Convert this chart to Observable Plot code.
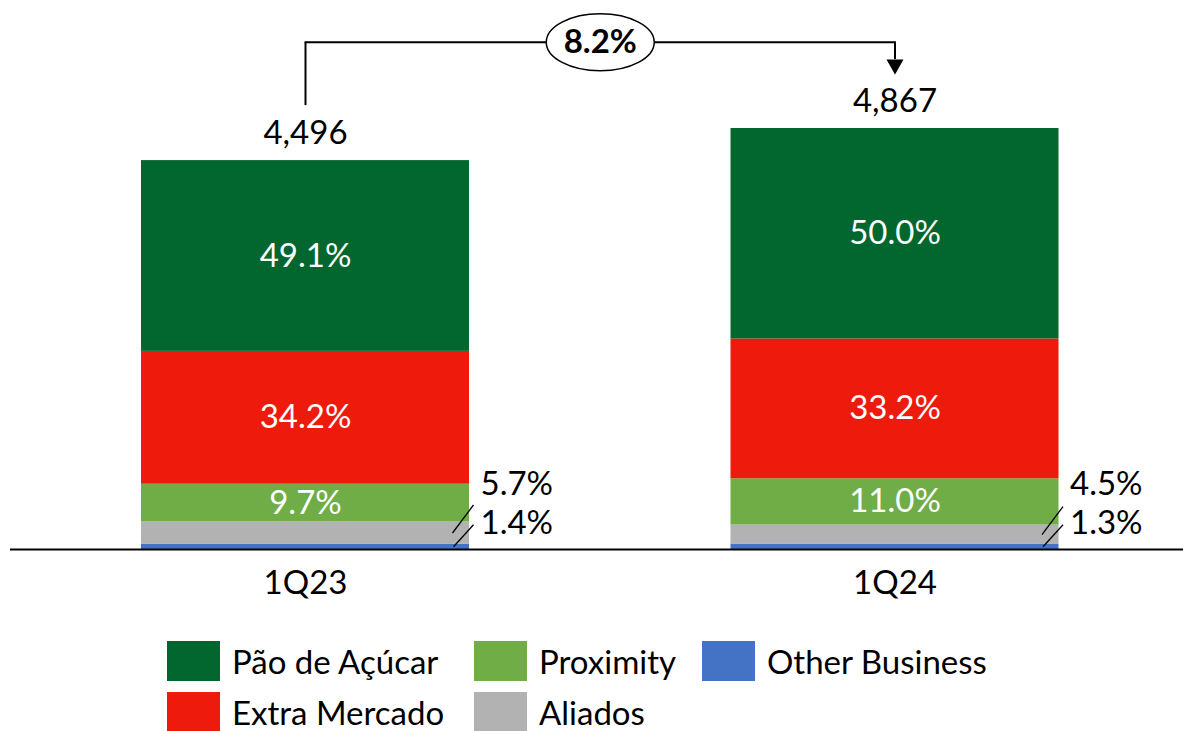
<!DOCTYPE html>
<html><head><meta charset="utf-8">
<script src="https://cdn.jsdelivr.net/npm/d3@7"></script>
<script src="https://cdn.jsdelivr.net/npm/@observablehq/plot@0.6"></script>
<style>
body{margin:0;background:#fff;font-family:Lato,sans-serif;}
#chart{position:relative;width:1183px;height:731px;overflow:hidden;background:#fff}
#chart svg{display:block}
.legend{position:absolute;left:167px;top:641px;display:grid;grid-template-rows:40px 38px;grid-auto-flow:column;grid-template-columns:307px 228px auto;row-gap:12px}
.item{display:flex;align-items:center;height:38px;font-size:33px;line-height:1;color:#000;white-space:nowrap}
.item:nth-child(odd){height:40px}
.sw{width:53px;height:40px;margin-right:12px;flex:none}
.item span:last-child{line-height:1;display:inline-block;height:33px}
</style></head><body><div id="chart"></div>
<script>
// ---- data ----
const quarters = ["1Q23", "1Q24"];
const totals = [4496, 4867];
const segments = ["Other Business", "Aliados", "Proximity", "Extra Mercado", "Pão de Açúcar"]; // bottom -> top
const colors = ["#4472C4", "#B2B2B2", "#70AD47", "#EE1A0B", "#02662F"];
const shareOther = [1.4, 1.3];
const shareAliados = [5.7, 4.5];
const shareProximity = [9.7, 11.0];
const shareExtra = [34.2, 33.2];
const sharePao = [49.1, 50.0];
const growthLabel = "8.2%";
const legendOrder = ["Pão de Açúcar", "Extra Mercado", "Proximity", "Aliados", "Other Business"];
const insideSegments = ["Pão de Açúcar", "Extra Mercado", "Proximity"];

// ---- derived table ----
const shareTable = [shareOther, shareAliados, shareProximity, shareExtra, sharePao];
const rows = [];
quarters.forEach((q, qi) => {
  const sum = d3.sum(shareTable, s => s[qi]);
  let acc = 0;
  segments.forEach((seg, si) => {
    const share = shareTable[si][qi];
    const value = share / sum * totals[qi];
    rows.push({quarter: q, segment: seg, share, value, mid: acc + value / 2});
    acc += value;
  });
});
const fmtPct = v => v.toFixed(1) + "%";
const totalRows = quarters.map((q, i) => ({quarter: q, total: totals[i]}));

// ---- layout ----
const W = 1183, H = 625, fs = 33;
const pInner = 0.4436, pOuter = 0.2, xr = [23.1, 1176.4];
const step = (xr[1] - xr[0]) / (quarters.length - pInner + 2 * pOuter);
const halfStep = step / 2;
const topY = d3.max(totals) * 1.205;

const slashLong = {draw(ctx) { ctx.moveTo(0, 0); ctx.lineTo(21, -28); }};
const slashShort = {draw(ctx) { ctx.moveTo(0, 0); ctx.lineTo(20, -22); }};
const downTriangle = {draw(ctx) { ctx.moveTo(-8.5, -7.5); ctx.lineTo(8.5, -7.5); ctx.lineTo(0, 7.5); ctx.closePath(); }};
const ellipse = {draw(ctx) {
  const rx = 54, ry = 28.5, k = 0.5523;
  ctx.moveTo(-rx, 0);
  ctx.bezierCurveTo(-rx, -ry * k, -rx * k, -ry, 0, -ry);
  ctx.bezierCurveTo(rx * k, -ry, rx, -ry * k, rx, 0);
  ctx.bezierCurveTo(rx, ry * k, rx * k, ry, 0, ry);
  ctx.bezierCurveTo(-rx * k, ry, -rx, ry * k, -rx, 0);
  ctx.closePath();
}};

const first = totalRows.slice(0, 1), last = totalRows.slice(1, 2);

const chart = Plot.plot({
  width: W, height: H,
  marginLeft: 10, marginRight: 0, marginTop: 30, marginBottom: 76,
  style: {fontFamily: "Lato, sans-serif", background: "#fff", overflow: "visible"},
  x: {domain: quarters, range: xr, paddingInner: pInner, paddingOuter: pOuter, round: false, label: null},
  y: {domain: [0, 6000], axis: null},
  color: {domain: segments, range: colors},
  marks: [
    Plot.barY(rows, {x: "quarter", y: "value", fill: "segment"}),
    Plot.ruleY([0], {stroke: "#000", strokeWidth: 2}),
    Plot.axisX({tickSize: 0, tickPadding: 21, fontSize: fs, fill: "#000", label: null}),
    Plot.text(rows.filter(d => insideSegments.includes(d.segment)),
      {x: "quarter", y: "mid", text: d => fmtPct(d.share), fill: "#fff", fontSize: fs}),
    Plot.text(rows.filter(d => d.segment === "Aliados"),
      {x: "quarter", y: () => 0, dx: 175, dy: -65, text: d => fmtPct(d.share), textAnchor: "start", fill: "#000", fontSize: fs}),
    Plot.text(rows.filter(d => d.segment === "Other Business"),
      {x: "quarter", y: () => 0, dx: 175, dy: -26, text: d => fmtPct(d.share), textAnchor: "start", fill: "#000", fontSize: fs}),
    Plot.dot(rows.filter(d => d.segment === "Aliados"),
      {x: "quarter", y: "mid", dx: 147, symbol: slashLong, fill: "none", stroke: "#000", strokeWidth: 1.3}),
    Plot.dot(rows.filter(d => d.segment === "Other Business"),
      {x: "quarter", y: "mid", dx: 148, symbol: slashShort, fill: "none", stroke: "#000", strokeWidth: 1.3}),
    Plot.text(totalRows, {x: "quarter", y: "total", text: d => d3.format(",")(d.total), dy: -27, fill: "#000", fontSize: fs}),
    // growth bracket
    Plot.ruleX(first, {x: "quarter", y1: () => topY, y2: "total", insetBottom: 55, stroke: "#000", strokeWidth: 2}),
    Plot.ruleX(last, {x: "quarter", y1: () => topY, y2: "total", insetBottom: 69, stroke: "#000", strokeWidth: 2}),
    Plot.line(totalRows, {x: "quarter", y: () => topY, stroke: "#000", strokeWidth: 2}),
    Plot.dot(last, {x: "quarter", y: "total", dy: -61.5, symbol: downTriangle, fill: "#000", stroke: "none"}),
    Plot.dot(first, {x: "quarter", y: () => topY, dx: halfStep, symbol: ellipse, fill: "#fff", stroke: "#000", strokeWidth: 1.5}),
    Plot.text(first, {x: "quarter", y: () => topY, dx: halfStep, text: () => growthLabel, fontWeight: "bold", fontSize: 33, fill: "#000"})
  ]
});

const root = document.getElementById("chart");
root.appendChild(chart);
const legend = document.createElement("div");
legend.className = "legend";
legendOrder.forEach(name => {
  const item = document.createElement("div");
  item.className = "item";
  const sw = document.createElement("span");
  sw.className = "sw";
  sw.style.background = colors[segments.indexOf(name)];
  const label = document.createElement("span");
  label.textContent = name;
  item.appendChild(sw);
  item.appendChild(label);
  legend.appendChild(item);
});
root.appendChild(legend);
</script>
</body></html>
